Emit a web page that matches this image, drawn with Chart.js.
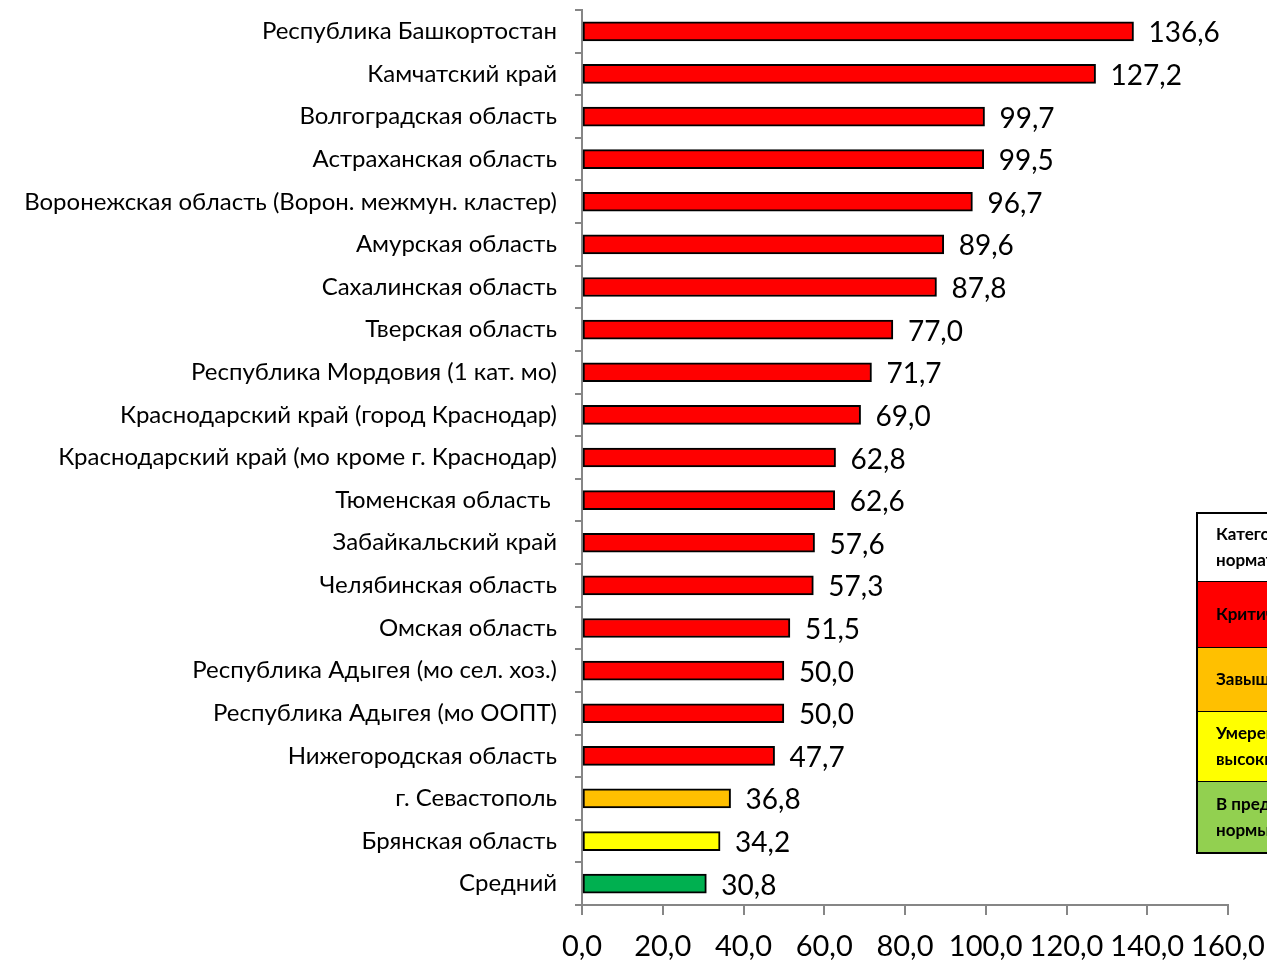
<!DOCTYPE html>
<html>
<head>
<meta charset="utf-8">
<script src="https://cdn.jsdelivr.net/npm/chart.js@4/dist/chart.umd.min.js"></script>
<style>
  body { margin: 0; background: #fff; overflow: hidden; }
  #wrap { width: 1267px; height: 961px; }
</style>
</head>
<body>
<div id="wrap"><canvas id="chart" width="1267" height="961"></canvas></div>
<script>
const regions = [
  'Республика Башкортостан',
  'Камчатский край',
  'Волгоградская область',
  'Астраханская область',
  'Воронежская область (Ворон. межмун. кластер)',
  'Амурская область',
  'Сахалинская область',
  'Тверская область',
  'Республика Мордовия (1 кат. мо)',
  'Краснодарский край (город Краснодар)',
  'Краснодарский край (мо кроме г. Краснодар)',
  'Тюменская область ',
  'Забайкальский край',
  'Челябинская область',
  'Омская область',
  'Республика Адыгея (мо сел. хоз.)',
  'Республика Адыгея (мо ООПТ)',
  'Нижегородская область',
  'г. Севастополь',
  'Брянская область',
  'Средний'
];
const values = [136.6, 127.2, 99.7, 99.5, 96.7, 89.6, 87.8, 77.0, 71.7, 69.0, 62.8, 62.6, 57.6, 57.3, 51.5, 50.0, 50.0, 47.7, 36.8, 34.2, 30.8];
// category of each bar: 0 critical, 1 elevated, 2 moderately high, 3 average
const levels = [0,0,0,0,0,0,0,0,0,0,0,0,0,0,0,0,0,0,1,2,3];
const levelColors = ['#FF0000', '#FFC000', '#FFFF00', '#00B050'];

const legendRows = ['Категория\nнорматива', 'Критический', 'Завышенный', 'Умеренно\nвысокий', 'В пределах\nнормы'];
const legendFills = ['#FFFFFF', '#FF0000', '#FFC000', '#FFFF00', '#92D050'];

const fmt = v => v.toFixed(1).replace('.', ',');
const FONT = 'Lato, "Open Sans", sans-serif';

const valueLabels = {
  id: 'valueLabels',
  afterDatasetsDraw(chart) {
    const ctx = chart.ctx;
    const meta = chart.getDatasetMeta(0);
    ctx.save();
    ctx.font = '28px ' + FONT;
    ctx.fillStyle = '#000';
    ctx.textBaseline = 'middle';
    ctx.textAlign = 'left';
    meta.data.forEach((bar, i) => {
      ctx.fillText(fmt(values[i]), bar.x + 15, bar.y + 2);
    });
    ctx.restore();
  }
};

const legendTable = {
  id: 'legendTable',
  afterDraw(chart) {
    const ctx = chart.ctx;
    const x = 1197;
    const rowsY = [513, 582, 648, 712, 782, 853];
    ctx.save();
    ctx.font = 'bold 17px ' + FONT;
    ctx.textBaseline = 'middle';
    legendRows.forEach((txt, i) => {
      const y0 = rowsY[i], y1 = rowsY[i + 1];
      ctx.fillStyle = legendFills[i];
      ctx.fillRect(x, y0, 200, y1 - y0);
      ctx.strokeStyle = '#000';
      ctx.lineWidth = 2;
      ctx.beginPath();
      ctx.moveTo(x, y1);
      ctx.lineTo(x + 200, y1);
      ctx.stroke();
      ctx.fillStyle = '#000';
      const lines = txt.split('\n');
      const mid = (y0 + y1) / 2;
      lines.forEach((ln, k) => {
        ctx.fillText(ln, x + 19, mid + (k - (lines.length - 1) / 2) * 26);
      });
    });
    ctx.strokeStyle = '#000';
    ctx.lineWidth = 2;
    ctx.strokeRect(x, rowsY[0], 200, rowsY[5] - rowsY[0]);
    ctx.restore();
  }
};

new Chart(document.getElementById('chart'), {
  type: 'bar',
  data: {
    labels: regions,
    datasets: [{
      data: values,
      backgroundColor: levels.map(l => levelColors[l]),
      borderColor: '#000',
      borderWidth: 2,
      borderSkipped: false,
      barThickness: 19
    }]
  },
  options: {
    indexAxis: 'y',
    responsive: false,
    animation: false,
    layout: { padding: { top: 10, right: 39, left: 0, bottom: 0 } },
    plugins: { legend: { display: false }, tooltip: { enabled: false } },
    scales: {
      x: {
        min: 0,
        max: 160,
        ticks: {
          stepSize: 20,
          color: '#000',
          font: { family: FONT, size: 29 },
          padding: 14,
          maxRotation: 0,
          callback: v => fmt(v)
        },
        grid: { drawOnChartArea: false, drawTicks: true, tickLength: 10, color: '#868686', lineWidth: 2 },
        border: { color: '#868686', width: 2 },
        afterFit(scale) {
          scale.height = 56;
          scale.paddingLeft = 0;
          scale.paddingRight = 0;
        }
      },
      y: {
        ticks: {
          color: '#000',
          font: { family: FONT, size: 24 },
          padding: 18,
          autoSkip: false
        },
        grid: { offset: true, drawOnChartArea: false, drawTicks: true, tickLength: 7, color: '#868686', lineWidth: 2 },
        border: { color: '#868686', width: 2 },
        afterFit(scale) {
          scale.width = 582;
          scale.paddingTop = 0;
          scale.paddingBottom = 0;
        }
      }
    }
  },
  plugins: [valueLabels, legendTable]
});
</script>
</body>
</html>
